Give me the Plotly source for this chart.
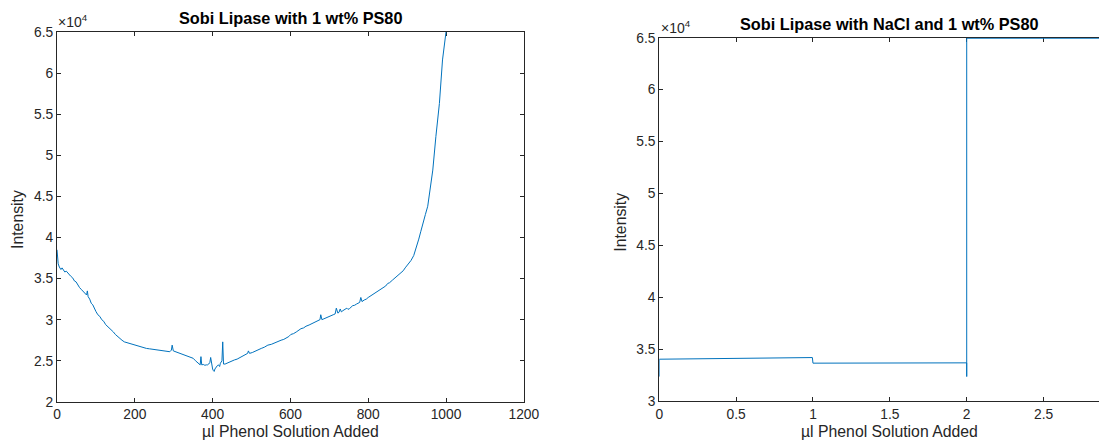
import plotly.graph_objects as go

# ---------------- data ----------------
left_x = [0, 1, 3, 6, 8, 10, 13, 15, 18, 20, 24, 27, 31, 35, 40, 45, 49, 53, 58, 62, 66,
          70, 76, 78, 80, 84, 88, 92, 96, 100, 105, 110, 115, 120, 125, 132, 139, 145, 150,
          155, 160, 167, 173, 180, 185, 192, 200, 208, 216, 223, 230, 238, 245, 252, 259,
          267, 275, 283, 290, 294, 296, 299, 305, 310, 318, 327, 334, 340, 345, 350, 356,
          362, 368, 370, 372, 376, 380, 384, 387, 390, 393, 395, 397, 400, 402, 404, 406,
          408, 412, 415, 418, 420, 424, 426, 428, 432, 436, 440, 448, 456, 463, 470, 480,
          490, 492, 495, 502, 510, 518, 525, 533, 542, 551, 560, 568, 576, 583, 590, 596,
          601, 608, 615, 621, 627, 634, 640, 648, 655, 662, 670, 676, 678, 681, 686, 690,
          695, 700, 705, 710, 715, 718, 722, 725, 728, 731, 735, 740, 745, 748, 752, 760,
          765, 770, 775, 778, 781, 784, 790, 795, 800, 805, 810, 815, 820, 826, 833, 839,
          845, 850, 855, 862, 870, 877, 884, 890, 895, 900, 905, 910, 917, 923, 930, 935,
          940, 947, 953, 960, 966, 974, 983, 991, 1000, 1006, 1012]
left_y = [38500, 37500, 36800, 36400, 36200, 36100, 36300, 36100, 35900, 35800, 35900,
          35700, 35500, 35300, 35100, 34700, 34600, 34200, 33900, 33700, 33500,
          33200, 33000, 33500, 32800, 32500, 32000, 31800, 31300, 31000, 30600, 30400,
          30000, 29800, 29400, 29100, 28800, 28500, 28200, 28000, 27700, 27500, 27300,
          27200, 27100, 27000, 26900, 26850, 26700, 26650, 26500, 26450, 26400, 26350,
          26300, 26250, 26200, 26200, 26100, 26300, 26900, 26200, 26100, 26000, 25900,
          25700, 25650, 25500, 25400, 25300, 25000, 24700, 24500, 25500, 24500, 24550,
          24450, 24500, 24500, 24600, 24800, 25400, 24600, 24000, 23800, 23700, 24000,
          24200, 24400, 24500, 24300, 24700, 25000, 27300, 24600, 24600, 24700, 24800,
          24900, 25100, 25200, 25400, 25700, 25900, 26200, 25900, 26000, 26200, 26300,
          26500, 26650, 26900, 27000, 27200, 27300, 27500, 27600, 27800, 27950, 28200,
          28300, 28500, 28700, 28900, 29000, 29200, 29350, 29500, 29600, 29800, 30000,
          30600, 30000, 30100, 30200, 30250, 30400, 30500, 30600, 30700, 31400, 30800,
          30900, 31300, 30950, 31100, 31200, 31400, 31250, 31350, 31700, 31750, 31900,
          32000, 32100, 32700, 32200, 32400, 32500, 32700, 32850, 33000, 33150, 33300,
          33450, 33700, 33850, 34100, 34400, 34500, 34800, 35100, 35400, 35700, 35950,
          36300, 36600, 36900, 37200, 37800, 38600, 39800, 40700, 41700, 42800, 43800,
          46000, 48200, 52300, 56300, 61600, 65000, 69000, 73000]

right_x = [0, 0, 0.996, 1.0, 2.0, 2.0, 2.0, 3.2]
right_y = [32360, 34030, 34190, 33650, 33680, 32360, 64950, 64950]

left_xticks = [0, 200, 400, 600, 800, 1000, 1200]
left_yticks = [20000, 25000, 30000, 35000, 40000, 45000, 50000, 55000, 60000, 65000]
left_yticklabels = ["2", "2.5", "3", "3.5", "4", "4.5", "5", "5.5", "6", "6.5"]
right_xticks = [0, 0.5, 1, 1.5, 2, 2.5, 3]
right_xticklabels = ["0", "0.5", "1", "1.5", "2", "2.5", "3"]
right_yticks = [30000, 35000, 40000, 45000, 50000, 55000, 60000, 65000]
right_yticklabels = ["3", "3.5", "4", "4.5", "5", "5.5", "6", "6.5"]

titles = ["Sobi Lipase with 1 wt% PS80", "Sobi Lipase with NaCl and 1 wt% PS80"]
xlabel = "µl Phenol Solution Added"
ylabel = "Intensity"
exponent_label = "×10<sup>4</sup>"

# ---------------- layout ----------------
W, H = 1115, 445
FONT = "Liberation Sans, Arial, Helvetica, sans-serif"
AX = "#262626"
LINE = "#0072BD"


def fx(x):
    # target screen x -> figure fraction (compensates page scaling seen in render)
    return (x - 2.96) / 0.9825 / W


def fy(y):
    return 1 - (y - 6.98) / 0.9667 / H


fig = go.Figure()
fig.add_trace(go.Scatter(x=left_x, y=left_y, mode="lines",
                         line=dict(color=LINE, width=1), xaxis="x", yaxis="y",
                         showlegend=False))
fig.add_trace(go.Scatter(x=right_x, y=right_y, mode="lines",
                         line=dict(color=LINE, width=1), xaxis="x2", yaxis="y2",
                         showlegend=False))

axis_common = dict(showgrid=False, zeroline=False, showline=True, linecolor=AX,
                   linewidth=1, ticks="inside", ticklen=4, tickwidth=1, tickcolor=AX,
                   layer="below traces",
                   tickfont=dict(family=FONT, size=13.8, color=AX))

right_span_px = (1115 - fx(658.5) * W)          # figure px available for right axis
right_unit_px = 153.8 / 0.9825                  # figure px per x-unit
fig.update_layout(
    xaxis=dict(domain=[fx(56), fx(523)], range=[0, 1200], tickvals=left_xticks,
               mirror="ticks", anchor="y", **axis_common),
    yaxis=dict(domain=[fy(402), fy(32)], range=[20000, 65000], tickvals=left_yticks,
               ticktext=left_yticklabels, mirror="ticks", anchor="x", **axis_common),
    xaxis2=dict(domain=[fx(658.5), 1.0], range=[0, right_span_px / right_unit_px],
                tickvals=right_xticks, ticktext=right_xticklabels, mirror="ticks",
                anchor="y2", **axis_common),
    yaxis2=dict(domain=[fy(401.2), fy(37.7)], range=[30000, 65000], tickvals=right_yticks,
                ticktext=right_yticklabels, mirror=False, anchor="x2", **axis_common),
)

annotations = []
# titles
for cx, cy, t in ((289.5, 18.0, titles[0]), (889, 23.5, titles[1])):
    annotations.append(dict(text="<b>%s</b>" % t, x=fx(cx), y=fy(cy),
                            xref="paper", yref="paper", showarrow=False, xanchor="center",
                            yanchor="middle", font=dict(family=FONT, size=16.3, color="black")))
# x labels (as low as the figure allows)
for cx in (289.5, 889):
    annotations.append(dict(text=xlabel, x=fx(cx), y=-0.011, xref="paper", yref="paper",
                            showarrow=False, xanchor="center", yanchor="bottom",
                            font=dict(family=FONT, size=15.8, color=AX)))
# y labels
for cx, cy in ((17, 220), (620, 222)):
    annotations.append(dict(text=ylabel, x=fx(cx), y=fy(cy), xref="paper", yref="paper",
                            showarrow=False, xanchor="center", yanchor="middle",
                            textangle=-90, font=dict(family=FONT, size=15.8, color=AX)))
# exponent labels
for cx, cy in ((55, 31.5), (658, 37.5)):
    annotations.append(dict(text=exponent_label, x=fx(cx), y=fy(cy), xref="paper",
                            yref="paper", showarrow=False, xanchor="left",
                            yanchor="bottom", font=dict(family=FONT, size=14, color=AX)))

fig.update_layout(
    width=W, height=H,
    margin=dict(l=0, r=0, t=0, b=0),
    paper_bgcolor="white", plot_bgcolor="white",
    annotations=annotations,
    showlegend=False,
)

fig.write_html("out.html")
